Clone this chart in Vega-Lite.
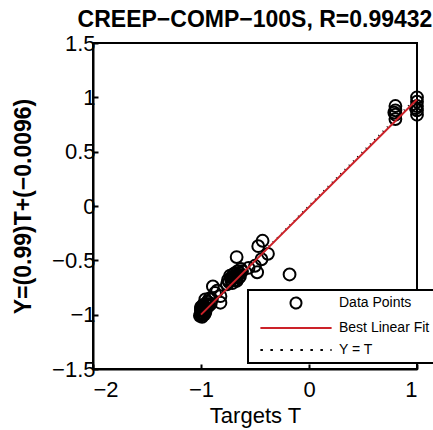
{
  "$schema": "https://vega.github.io/schema/vega-lite/v6.json",
  "width": 324,
  "height": 326,
  "autosize": "none",
  "padding": {"left": 93, "top": 43, "right": 16, "bottom": 61},
  "background": "white",
  "title": {"text": "CREEP−COMP−100S, R=0.99432", "font": "Liberation Sans", "fontSize": 23, "fontWeight": "bold", "color": "black", "anchor": "middle", "offset": 4, "baseline": "bottom", "dy": 27},
  "config": {
    "view": {"stroke": "black", "strokeWidth": 2},
    "axis": {"grid": false, "domainColor": "black", "domainWidth": 2, "tickColor": "black", "tickWidth": 2, "tickSize": -5, "labelFont": "Liberation Sans", "labelFontSize": 22, "labelColor": "black", "titleFont": "Liberation Sans", "titleColor": "black", "titleFontSize": 22, "titleFontWeight": "normal"}
  },
  "datasets": {
    "pts": [
      {"T": 0.8, "Y": 0.80, "series": "Data Points"},
      {"T": 0.8, "Y": 0.84, "series": "Data Points"},
      {"T": 0.8, "Y": 0.88, "series": "Data Points"},
      {"T": 0.8, "Y": 0.92, "series": "Data Points"},
      {"T": 0.79, "Y": 0.86, "series": "Data Points"},
      {"T": 1.0, "Y": 0.84, "series": "Data Points"},
      {"T": 1.0, "Y": 0.88, "series": "Data Points"},
      {"T": 1.0, "Y": 0.92, "series": "Data Points"},
      {"T": 1.0, "Y": 0.96, "series": "Data Points"},
      {"T": 1.0, "Y": 1.0, "series": "Data Points"},
      {"T": 0.99, "Y": 0.90, "series": "Data Points"},
      {"T": -0.43, "Y": -0.32, "series": "Data Points"},
      {"T": -0.47, "Y": -0.37, "series": "Data Points"},
      {"T": -0.38, "Y": -0.44, "series": "Data Points"},
      {"T": -0.67, "Y": -0.47, "series": "Data Points"},
      {"T": -0.44, "Y": -0.49, "series": "Data Points"},
      {"T": -0.50, "Y": -0.55, "series": "Data Points"},
      {"T": -0.48, "Y": -0.61, "series": "Data Points"},
      {"T": -0.18, "Y": -0.63, "series": "Data Points"},
      {"T": -0.56, "Y": -0.57, "series": "Data Points"},
      {"T": -0.62, "Y": -0.60, "series": "Data Points"},
      {"T": -0.64, "Y": -0.62, "series": "Data Points"},
      {"T": -0.66, "Y": -0.63, "series": "Data Points"},
      {"T": -0.68, "Y": -0.65, "series": "Data Points"},
      {"T": -0.70, "Y": -0.66, "series": "Data Points"},
      {"T": -0.72, "Y": -0.68, "series": "Data Points"},
      {"T": -0.74, "Y": -0.70, "series": "Data Points"},
      {"T": -0.65, "Y": -0.66, "series": "Data Points"},
      {"T": -0.69, "Y": -0.62, "series": "Data Points"},
      {"T": -0.73, "Y": -0.64, "series": "Data Points"},
      {"T": -0.76, "Y": -0.72, "series": "Data Points"},
      {"T": -0.67, "Y": -0.69, "series": "Data Points"},
      {"T": -0.63, "Y": -0.58, "series": "Data Points"},
      {"T": -0.71, "Y": -0.71, "series": "Data Points"},
      {"T": -0.70, "Y": -0.63, "series": "Data Points"},
      {"T": -0.66, "Y": -0.60, "series": "Data Points"},
      {"T": -0.72, "Y": -0.66, "series": "Data Points"},
      {"T": -0.68, "Y": -0.68, "series": "Data Points"},
      {"T": -0.75, "Y": -0.68, "series": "Data Points"},
      {"T": -0.64, "Y": -0.65, "series": "Data Points"},
      {"T": -0.89, "Y": -0.74, "series": "Data Points"},
      {"T": -0.82, "Y": -0.83, "series": "Data Points"},
      {"T": -0.82, "Y": -0.89, "series": "Data Points"},
      {"T": -0.85, "Y": -0.78, "series": "Data Points"},
      {"T": -0.87, "Y": -0.80, "series": "Data Points"},
      {"T": -1.0, "Y": -1.0, "series": "Data Points"},
      {"T": -1.0, "Y": -0.98, "series": "Data Points"},
      {"T": -1.0, "Y": -0.96, "series": "Data Points"},
      {"T": -0.99, "Y": -1.02, "series": "Data Points"},
      {"T": -0.98, "Y": -0.97, "series": "Data Points"},
      {"T": -0.98, "Y": -0.94, "series": "Data Points"},
      {"T": -0.97, "Y": -0.92, "series": "Data Points"},
      {"T": -0.96, "Y": -0.95, "series": "Data Points"},
      {"T": -0.95, "Y": -0.90, "series": "Data Points"},
      {"T": -0.94, "Y": -0.88, "series": "Data Points"},
      {"T": -1.0, "Y": -0.93, "series": "Data Points"},
      {"T": -0.99, "Y": -0.99, "series": "Data Points"},
      {"T": -0.97, "Y": -1.0, "series": "Data Points"},
      {"T": -0.93, "Y": -0.92, "series": "Data Points"},
      {"T": -0.96, "Y": -0.86, "series": "Data Points"},
      {"T": -0.92, "Y": -0.85, "series": "Data Points"},
      {"T": -0.90, "Y": -0.86, "series": "Data Points"},
      {"T": -0.91, "Y": -0.90, "series": "Data Points"},
      {"T": -1.0, "Y": -0.94, "series": "Data Points"},
      {"T": -0.99, "Y": -0.96, "series": "Data Points"},
      {"T": -0.98, "Y": -1.0, "series": "Data Points"},
      {"T": -0.97, "Y": -0.97, "series": "Data Points"},
      {"T": -0.96, "Y": -0.98, "series": "Data Points"},
      {"T": -0.95, "Y": -0.94, "series": "Data Points"},
      {"T": -0.94, "Y": -0.91, "series": "Data Points"},
      {"T": -1.01, "Y": -1.01, "series": "Data Points"},
      {"T": -0.98, "Y": -0.91, "series": "Data Points"}
    ],
    "fit": [
      {"T": -1, "Y": -0.9996, "series": "Best Linear Fit"},
      {"T": 1, "Y": 0.9804, "series": "Best Linear Fit"}
    ],
    "ident": [
      {"T": -1, "Y": -1, "series": "Y = T"},
      {"T": 1, "Y": 1, "series": "Y = T"}
    ]
  },
  "encoding": {
    "x": {"field": "T", "type": "quantitative", "scale": {"domain": [-2, 1], "nice": false, "zero": false},
      "axis": {"values": [-2, -1, 0, 1], "format": "d", "title": "Targets T", "labelPadding": 15, "titlePadding": 5}},
    "y": {"field": "Y", "type": "quantitative", "scale": {"domain": [-1.5, 1.5], "nice": false, "zero": false},
      "axis": {"values": [-1.5, -1, -0.5, 0, 0.5, 1, 1.5], "format": ".1~f", "title": "Y=(0.99)T+(−0.0096)", "titleFontWeight": "bold", "titleFontSize": 23, "labelPadding": 3, "titlePadding": 16}},
    "color": {"field": "series", "type": "nominal",
      "scale": {"domain": ["Data Points", "Best Linear Fit", "Y = T"], "range": ["black", "#cc2229", "black"]},
      "legend": {
        "orient": "none", "legendX": 155, "legendY": 247, "title": null,
        "padding": 6, "rowPadding": 8, "symbolOffset": 35, "labelOffset": 36,
        "labelFont": "Liberation Sans", "labelFontSize": 14, "labelColor": "black",
        "symbolSize": 120, "symbolStrokeWidth": 2,
        "strokeColor": "black", "fillColor": "white",
        "encode": {
          "legend": {"update": {"strokeWidth": {"value": 2}}},
          "symbols": {"update": {
            "shape": {"signal": "datum.value === 'Data Points' ? 'circle' : 'M-6.5,0H6.5'"},
            "strokeDash": {"signal": "datum.value === 'Y = T' ? [2.5, 7.5] : [1, 0]"},
            "fill": {"value": "transparent"},
            "stroke": {"signal": "datum.value === 'Best Linear Fit' ? '#cc2229' : 'black'"},
            "strokeWidth": {"value": 2},
            "opacity": {"value": 1}
          }}
        }
      }}
  },
  "layer": [
    {"data": {"name": "ident"}, "mark": {"type": "line", "strokeDash": [1, 5], "strokeWidth": 2}},
    {"data": {"name": "pts"}, "mark": {"type": "point", "filled": false, "size": 140, "strokeWidth": 2, "opacity": 1}},
    {"data": {"name": "fit"}, "mark": {"type": "line", "strokeWidth": 2}}
  ]
}
